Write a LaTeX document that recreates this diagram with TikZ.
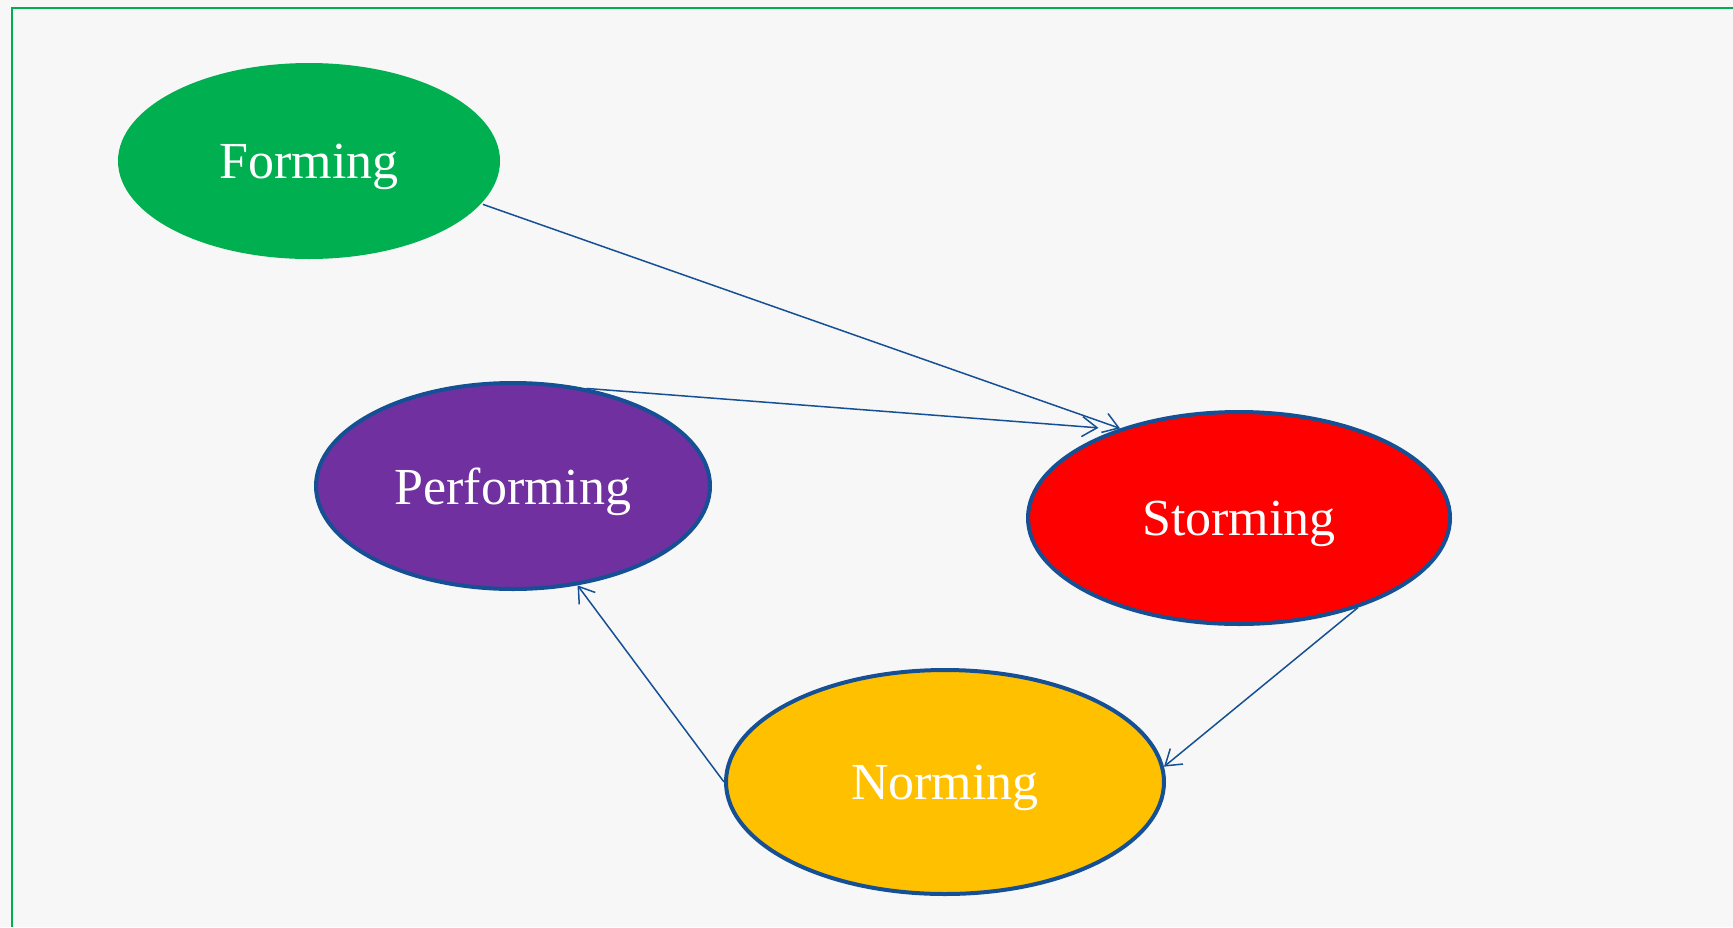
\documentclass[tikz,border=0pt]{standalone}
\usepackage{fontspec}
\setmainfont{Liberation Serif}
\usetikzlibrary{shapes.geometric,arrows.meta}
\definecolor{rim}{RGB}{22,80,148}
\definecolor{formgreen}{RGB}{0,176,80}
\definecolor{perfpurple}{RGB}{112,48,160}
\definecolor{normgold}{RGB}{255,192,0}
\definecolor{frame}{RGB}{0,176,80}

\begin{document}
\begin{tikzpicture}[x=1pt,y=-1pt,
    stage/.style={ellipse,draw=rim,line width=4pt,text=white,inner sep=0pt,
      text depth=0pt,font=\fontsize{52}{58}\selectfont},
    flow/.style={draw=rim,line width=1.5pt,-{Straight Barb[length=15pt,width=20pt]}}]
    \useasboundingbox[fill=black!3] (0,0) rectangle (1733,927);
    \draw[frame,line width=2.8pt] (12,927) -- (12,8) -- (1733,8);
    \draw
    (309,161) node[stage,draw=none,fill=formgreen,minimum width=382pt,minimum height=196pt](F){Forming}
    (513,486) node[stage,fill=perfpurple,minimum width=394pt,minimum height=206pt](P){Performing}
    (1239,518) node[stage,fill=red,minimum width=422pt,minimum height=212pt](S){Storming}
    (945,782) node[stage,fill=normgold,minimum width=438pt,minimum height=224pt](N){Norming};
    \draw (F.-14) edge[flow] (S.143)
          (P.53) edge[flow] ([yshift=9pt]S.150)
          (S.-37) edge[flow] (N.4)
          (N.180) edge[flow] (P.-57);
  \end{tikzpicture}
\end{document}
